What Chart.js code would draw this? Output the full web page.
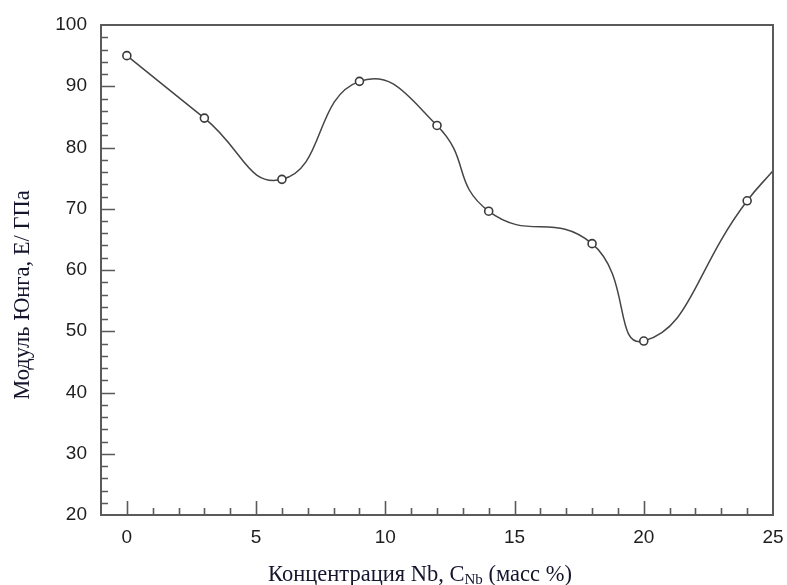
<!DOCTYPE html>
<html>
<head>
<meta charset="utf-8">
<script src="https://cdn.jsdelivr.net/npm/chart.js@4.4.1/dist/chart.umd.min.js"></script>
<style>
    html, body { margin: 0; padding: 0; background: #fff; }
    #wrap { width: 787px; height: 585px; }
</style>
</head>
<body>
<div id="wrap"><canvas id="modulusChart"></canvas></div>
<script>
// Data
const concNb = [0, 3, 6, 9, 12, 14, 18, 20, 24];
const youngModulus = [95.0, 84.8, 74.8, 90.8, 83.6, 69.6, 64.3, 48.4, 71.3];
// the fitted curve runs on to the right edge of the frame
const curveEndX = 25;
const curveEndY = 76.2;

const xTickLabels = [0, 5, 10, 15, 20, 25];
const yTickLabels = [20, 30, 40, 50, 60, 70, 80, 90, 100];

const xTitle = 'Концентрация Nb, C';
const xTitleSub = 'Nb';
const xTitleTail = ' (масс %)';
const yTitle = 'Модуль Юнга, E/ ГПа';

const titleColor = '#15152e';
const frameColor = '#5a5a5a';

// Frame, inward ticks and axis titles
const framePlugin = {
    id: 'frame',
    afterDraw(chart) {
        const { ctx, chartArea: a, scales } = chart;
        const xs = scales.x, ys = scales.y;
        ctx.save();
        ctx.strokeStyle = frameColor;
        ctx.lineWidth = 2;
        ctx.strokeRect(a.left, a.top, a.right - a.left, a.bottom - a.top);

        ctx.lineWidth = 1.6;
        ctx.beginPath();
        for (let v = 0; v < 25; v++) {
            const px = Math.round(xs.getPixelForValue(v)) + 0.5;
            const len = v % 5 === 0 ? 14 : 7;
            ctx.moveTo(px, a.bottom);
            ctx.lineTo(px, a.bottom - len);
        }
        for (let v = 22; v < 100; v += 2) {
            const py = Math.round(ys.getPixelForValue(v)) + 0.5;
            const len = v % 10 === 0 ? 14 : 7;
            ctx.moveTo(a.left, py);
            ctx.lineTo(a.left + len, py);
        }
        ctx.stroke();

        // x title with subscript
        ctx.fillStyle = titleColor;
        ctx.textBaseline = 'alphabetic';
        const big = '22.5px "Liberation Serif", "Times New Roman", serif';
        const small = '15px "Liberation Serif", "Times New Roman", serif';
        ctx.font = big;
        const w1 = ctx.measureText(xTitle).width;
        const w3 = ctx.measureText(xTitleTail).width;
        ctx.font = small;
        const w2 = ctx.measureText(xTitleSub).width;
        let x0 = 420 - (w1 + w2 + w3) / 2;
        const by = 581;
        ctx.font = big;
        ctx.fillText(xTitle, x0, by);
        ctx.font = small;
        ctx.fillText(xTitleSub, x0 + w1, by + 3);
        ctx.font = big;
        ctx.fillText(xTitleTail, x0 + w1 + w2, by);

        // y title, rotated
        ctx.translate(29, 295);
        ctx.rotate(-Math.PI / 2);
        ctx.textAlign = 'center';
        ctx.fillText(yTitle, 0, 0);
        ctx.restore();
    }
};

const curveX = concNb.concat([curveEndX]);
const curveY = youngModulus.concat([curveEndY]);
const pointSizes = concNb.map(() => 4).concat([0]);

new Chart(document.getElementById('modulusChart'), {
    type: 'line',
    data: {
        datasets: [{
            data: curveX.map((x, i) => ({ x: x, y: curveY[i] })),
            borderColor: '#454545',
            borderWidth: 1.5,
            tension: 0.5,
            pointRadius: pointSizes,
            pointBorderWidth: 1.6,
            pointBorderColor: '#3a3a3a',
            pointBackgroundColor: '#ffffff',
            clip: false
        }]
    },
    options: {
        responsive: true,
        maintainAspectRatio: false,
        animation: false,
        layout: { padding: { left: 40, right: 14, top: 25, bottom: 0 } },
        plugins: {
            legend: { display: false },
            tooltip: { enabled: false }
        },
        scales: {
            x: {
                type: 'linear',
                min: -1,
                max: 25,
                grid: { display: false, drawTicks: false },
                border: { display: false },
                afterBuildTicks: s => { s.ticks = xTickLabels.map(v => ({ value: v })); },
                afterFit: s => { s.height = 70; s.paddingLeft = 0; s.paddingRight = 0; },
                ticks: {
                    padding: 11,
                    color: '#1e1e1e',
                    font: { family: '"Liberation Sans", Arial, sans-serif', size: 19 }
                }
            },
            y: {
                min: 20,
                max: 100,
                grid: { display: false, drawTicks: false },
                border: { display: false },
                afterBuildTicks: s => { s.ticks = yTickLabels.map(v => ({ value: v })); },
                afterFit: s => { s.width = 61; s.paddingTop = 0; s.paddingBottom = 0; },
                ticks: {
                    padding: 14,
                    color: '#1e1e1e',
                    font: { family: '"Liberation Sans", Arial, sans-serif', size: 19 }
                }
            }
        }
    },
    plugins: [framePlugin]
});
</script>
</body>
</html>
